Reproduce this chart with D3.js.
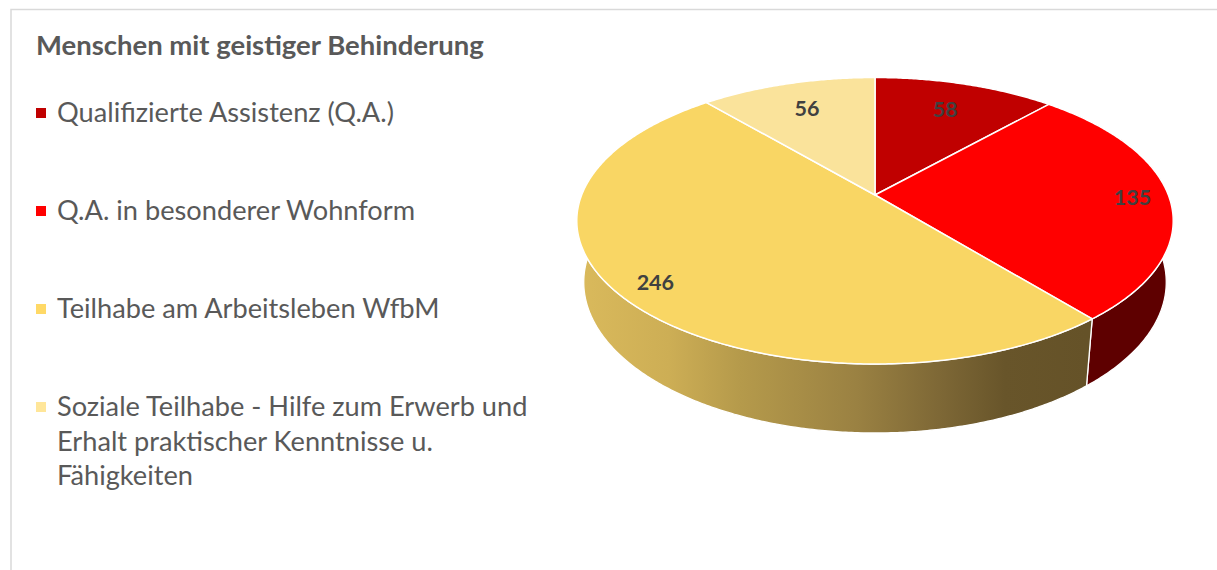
<!DOCTYPE html>
<html>
<head>
<meta charset="utf-8">
<script src="https://cdn.jsdelivr.net/npm/d3@7"></script>
<style>
  body { margin: 0; background: #fff; }
  svg { display: block; }
</style>
</head>
<body>
<svg id="chart" width="1217" height="570"></svg>
<script>
// data
var chartTitle = "Menschen mit geistiger Behinderung";
var categories = [
  "Qualifizierte Assistenz (Q.A.)",
  "Q.A. in besonderer Wohnform",
  "Teilhabe am Arbeitsleben WfbM",
  "Soziale Teilhabe - Hilfe zum Erwerb und Erhalt praktischer Kenntnisse u. Fähigkeiten"
];
var values = [58, 135, 246, 56];

// styles
var topColors = ["#C00000", "#FF0000", "#F9D664", "#FAE39B"];
var keyColors = ["#C00000", "#FF0000", "#FFD966", "#FFE699"];
var sideColors = ["#5A0000", "#5E0000", "url(#sideGold)", "#8A7A48"];
var labelRadius = [0.75, 0.875, 0.88, 0.75];
var textColor = "#595959";
var font = "Lato, 'Open Sans', sans-serif";

var svg = d3.select("#chart");

// chart area border (top and left edges visible)
svg.append("rect")
  .attr("x", 11).attr("y", 9.5)
  .attr("width", 1400).attr("height", 800)
  .attr("fill", "none")
  .attr("stroke", "#D9D9D9")
  .attr("stroke-width", 1.5);

// ---- 3D pie with perspective ----
var view = { cx: 875, cy: 195, f: 1438, r: 0.204, h: 0.049, tilt: 28.2 * Math.PI / 180 };
var rad = d3.scaleLinear().domain([0, 1]).range([0, view.r]);

function project(a, rho, y) {
  var X = rho * Math.sin(a), Z = rho * Math.cos(a);
  var ca = Math.cos(view.tilt), sa = Math.sin(view.tilt);
  var yc = y * ca + Z * sa, zc = 1 + Z * ca - y * sa;
  return [view.cx + view.f * X / zc, view.cy - view.f * yc / zc];
}

function rim(a0, a1, y) {
  var n = Math.max(2, Math.ceil(Math.abs(a1 - a0) / (Math.PI / 360)));
  var pts = [];
  for (var i = 0; i <= n; i++) {
    pts.push(project(a0 + (a1 - a0) * i / n, rad(1), y));
  }
  return pts;
}

var line = d3.line();
var pie = d3.pie().sort(null).value(function(d) { return d; });
var arcs = pie(values);

// gradient for the gold side
var goldEnd = project(arcs[2].startAngle, rad(1), -view.h)[0];
var leftX = d3.min(rim(0, 2 * Math.PI, 0), function(p) { return p[0]; });
var grad = svg.append("defs").append("linearGradient")
  .attr("id", "sideGold")
  .attr("gradientUnits", "userSpaceOnUse")
  .attr("x1", leftX).attr("x2", goldEnd)
  .attr("y1", 0).attr("y2", 0);
[[0, "#DABA5C"], [0.18, "#CDAE55"], [0.32, "#B59A4B"], [0.55, "#9A8142"],
 [0.71, "#7E6836"], [0.84, "#68552A"], [1, "#655228"]].forEach(function(s) {
  grad.append("stop").attr("offset", s[0]).attr("stop-color", s[1]);
});

var pieG = svg.append("g");

// sides
pieG.selectAll("path.side")
  .data(arcs)
  .enter()
  .append("path")
  .attr("class", "side")
  .attr("d", function(d) {
    return line(rim(d.startAngle, d.endAngle, 0).concat(rim(d.endAngle, d.startAngle, -view.h))) + "Z";
  })
  .attr("fill", function(d, i) { return sideColors[i]; })
  .attr("stroke", "#fff")
  .attr("stroke-width", 1.3)
  .attr("stroke-linejoin", "round");

// top faces
pieG.selectAll("path.top")
  .data(arcs)
  .enter()
  .append("path")
  .attr("class", "top")
  .attr("d", function(d) {
    return line([project(0, 0, 0)].concat(rim(d.startAngle, d.endAngle, 0))) + "Z";
  })
  .attr("fill", function(d, i) { return topColors[i]; })
  .attr("stroke", "#fff")
  .attr("stroke-width", 1.5)
  .attr("stroke-linejoin", "round");

// data labels
pieG.selectAll("text.label")
  .data(arcs)
  .enter()
  .append("text")
  .attr("class", "label")
  .attr("x", function(d, i) { return project((d.startAngle + d.endAngle) / 2, rad(labelRadius[i]), 0)[0]; })
  .attr("y", function(d, i) { return project((d.startAngle + d.endAngle) / 2, rad(labelRadius[i]), 0)[1]; })
  .attr("dy", "0.36em")
  .attr("text-anchor", "middle")
  .style("font-family", font)
  .style("font-weight", "bold")
  .style("font-size", "21.5px")
  .style("fill", "#404040")
  .text(function(d) { return d.data; });

// ---- title ----
var titleText = svg.append("text")
  .attr("x", 36).attr("y", 55)
  .style("font-family", font)
  .style("font-weight", "bold")
  .style("font-size", "20px")
  .style("fill", textColor)
  .text(chartTitle);
titleText.style("font-size", (20 * 448 / titleText.node().getComputedTextLength()) + "px");

// ---- legend ----
var legend = svg.append("g");
var probe = legend.append("text")
  .style("font-family", font).style("font-size", "20px")
  .text(categories[0]);
var legendSize = 20 * 337 / probe.node().getComputedTextLength();
probe.remove();

var rowStep = 98, lineStep = 34.5, firstBase = 122, maxWidth = 490;

var rows = legend.selectAll("g.row")
  .data(categories)
  .enter()
  .append("g")
  .attr("class", "row");

rows.append("rect")
  .attr("x", 36)
  .attr("y", function(d, i) { return firstBase + i * rowStep - 14; })
  .attr("width", 10)
  .attr("height", 10)
  .attr("fill", function(d, i) { return keyColors[i]; });

rows.append("text")
  .attr("x", 57)
  .attr("y", function(d, i) { return firstBase + i * rowStep; })
  .style("font-family", font)
  .style("font-size", legendSize + "px")
  .style("fill", textColor)
  .each(function(d) {
    var t = d3.select(this);
    var words = d.split(" ");
    var cur = [];
    var tspan = t.append("tspan").attr("x", 57).attr("dy", 0);
    words.forEach(function(w) {
      cur.push(w);
      tspan.text(cur.join(" "));
      if (tspan.node().getComputedTextLength() > maxWidth && cur.length > 1) {
        cur.pop();
        tspan.text(cur.join(" "));
        cur = [w];
        tspan = t.append("tspan").attr("x", 57).attr("dy", lineStep).text(w);
      }
    });
  });
</script>
</body>
</html>
